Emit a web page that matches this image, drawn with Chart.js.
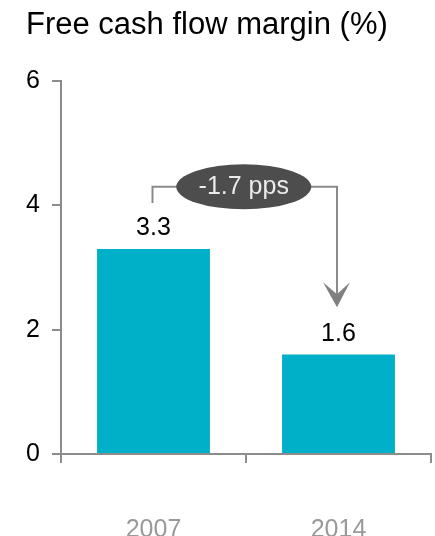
<!DOCTYPE html>
<html>
<head>
<meta charset="utf-8">
<script src="https://cdn.jsdelivr.net/npm/chart.js@4"></script>
<style>
  html, body { margin: 0; padding: 0; background: #ffffff; overflow: hidden; }
  #wrap { width: 435px; height: 536px; }
</style>
</head>
<body>
<div id="wrap"><canvas id="chart" width="435" height="536"></canvas></div>
<script>
// Free cash flow margin, two years
const categories = ['2007', '2014'];
const marginValues = [3.3, 1.6];
const yTicks = [0, 2, 4, 6];
const changeLabel = '-1.7 pps';

const FONT = '"Liberation Sans", Arial, Helvetica, sans-serif';
const AXIS_GREY = '#8c8c8c';

// Value labels above each bar
const valueLabels = {
  id: 'valueLabels',
  afterDatasetsDraw(chart) {
    const ctx = chart.ctx;
    const meta = chart.getDatasetMeta(0);
    ctx.save();
    ctx.font = '25px ' + FONT;
    ctx.fillStyle = '#000000';
    ctx.textAlign = 'center';
    ctx.textBaseline = 'alphabetic';
    meta.data.forEach((bar, i) => {
      ctx.fillText(String(marginValues[i]), bar.x, bar.y - 14);
    });
    ctx.restore();
  }
};

// Bracket with arrow from the first bar to the second, with the change badge
const changeBracket = {
  id: 'changeBracket',
  afterDatasetsDraw(chart) {
    const ctx = chart.ctx;
    const xs = chart.scales.x;
    const ys = chart.scales.y;
    const x0 = xs.getPixelForValue(0) - 1;
    const x1 = xs.getPixelForValue(1) - 1.5;
    const yStart = ys.getPixelForValue(4.04);
    const yLevel = ys.getPixelForValue(4.3);
    const yTip = ys.getPixelForValue(2.36);

    ctx.save();
    ctx.strokeStyle = '#8a8a8a';
    ctx.lineWidth = 2;
    ctx.beginPath();
    ctx.moveTo(x0, yStart);
    ctx.lineTo(x0, yLevel);
    ctx.lineTo(x1, yLevel);
    ctx.lineTo(x1, yTip - 12);
    ctx.stroke();

    // arrow head
    ctx.fillStyle = '#808080';
    ctx.beginPath();
    ctx.moveTo(x1, yTip);
    ctx.lineTo(x1 - 14, yTip - 25);
    ctx.lineTo(x1, yTip - 13);
    ctx.lineTo(x1 + 13, yTip - 25);
    ctx.closePath();
    ctx.fill();

    // badge
    const cx = (x0 + x1) / 2 - 1;
    ctx.fillStyle = '#4d4d4d';
    ctx.beginPath();
    ctx.ellipse(cx, yLevel, 67.5, 22.5, 0, 0, Math.PI * 2);
    ctx.fill();
    ctx.fillStyle = '#ececec';
    ctx.font = '25px ' + FONT;
    ctx.textAlign = 'center';
    ctx.textBaseline = 'middle';
    ctx.fillText(changeLabel, cx, yLevel);
    ctx.restore();
  }
};

new Chart(document.getElementById('chart'), {
  type: 'bar',
  data: {
    labels: categories,
    datasets: [{
      data: marginValues,
      backgroundColor: '#00afc8',
      borderWidth: 0,
      barPercentage: 0.61,
      categoryPercentage: 1.0
    }]
  },
  options: {
    responsive: false,
    animation: false,
    devicePixelRatio: 1,
    layout: { padding: { left: 26, right: 4, top: 0, bottom: 0 } },
    plugins: {
      legend: { display: false },
      tooltip: { enabled: false },
      title: {
        display: true,
        text: 'Free cash flow margin (%)',
        align: 'start',
        color: '#000000',
        font: { family: FONT, size: 31, weight: 'normal' },
        padding: { top: 7, bottom: 37 }
      }
    },
    scales: {
      x: {
        grid: {
          display: true,
          drawOnChartArea: false,
          drawTicks: true,
          tickLength: 9,
          color: AXIS_GREY,
          lineWidth: 2
        },
        border: { display: true, color: AXIS_GREY, width: 2 },
        ticks: {
          color: '#999999',
          font: { family: FONT, size: 25 },
          padding: 52
        },
        afterFit(scale) { scale.height = 82; }
      },
      y: {
        min: 0,
        max: 6,
        afterBuildTicks(scale) { scale.ticks = yTicks.map(v => ({ value: v })); },
        grid: {
          display: true,
          drawOnChartArea: false,
          drawTicks: true,
          tickLength: 9,
          color: AXIS_GREY,
          lineWidth: 2
        },
        border: { display: true, color: AXIS_GREY, width: 2 },
        ticks: {
          color: '#000000',
          font: { family: FONT, size: 25 },
          padding: 12
        },
        afterFit(scale) { scale.width = 35; }
      }
    }
  },
  plugins: [valueLabels, changeBracket]
});
</script>
</body>
</html>
